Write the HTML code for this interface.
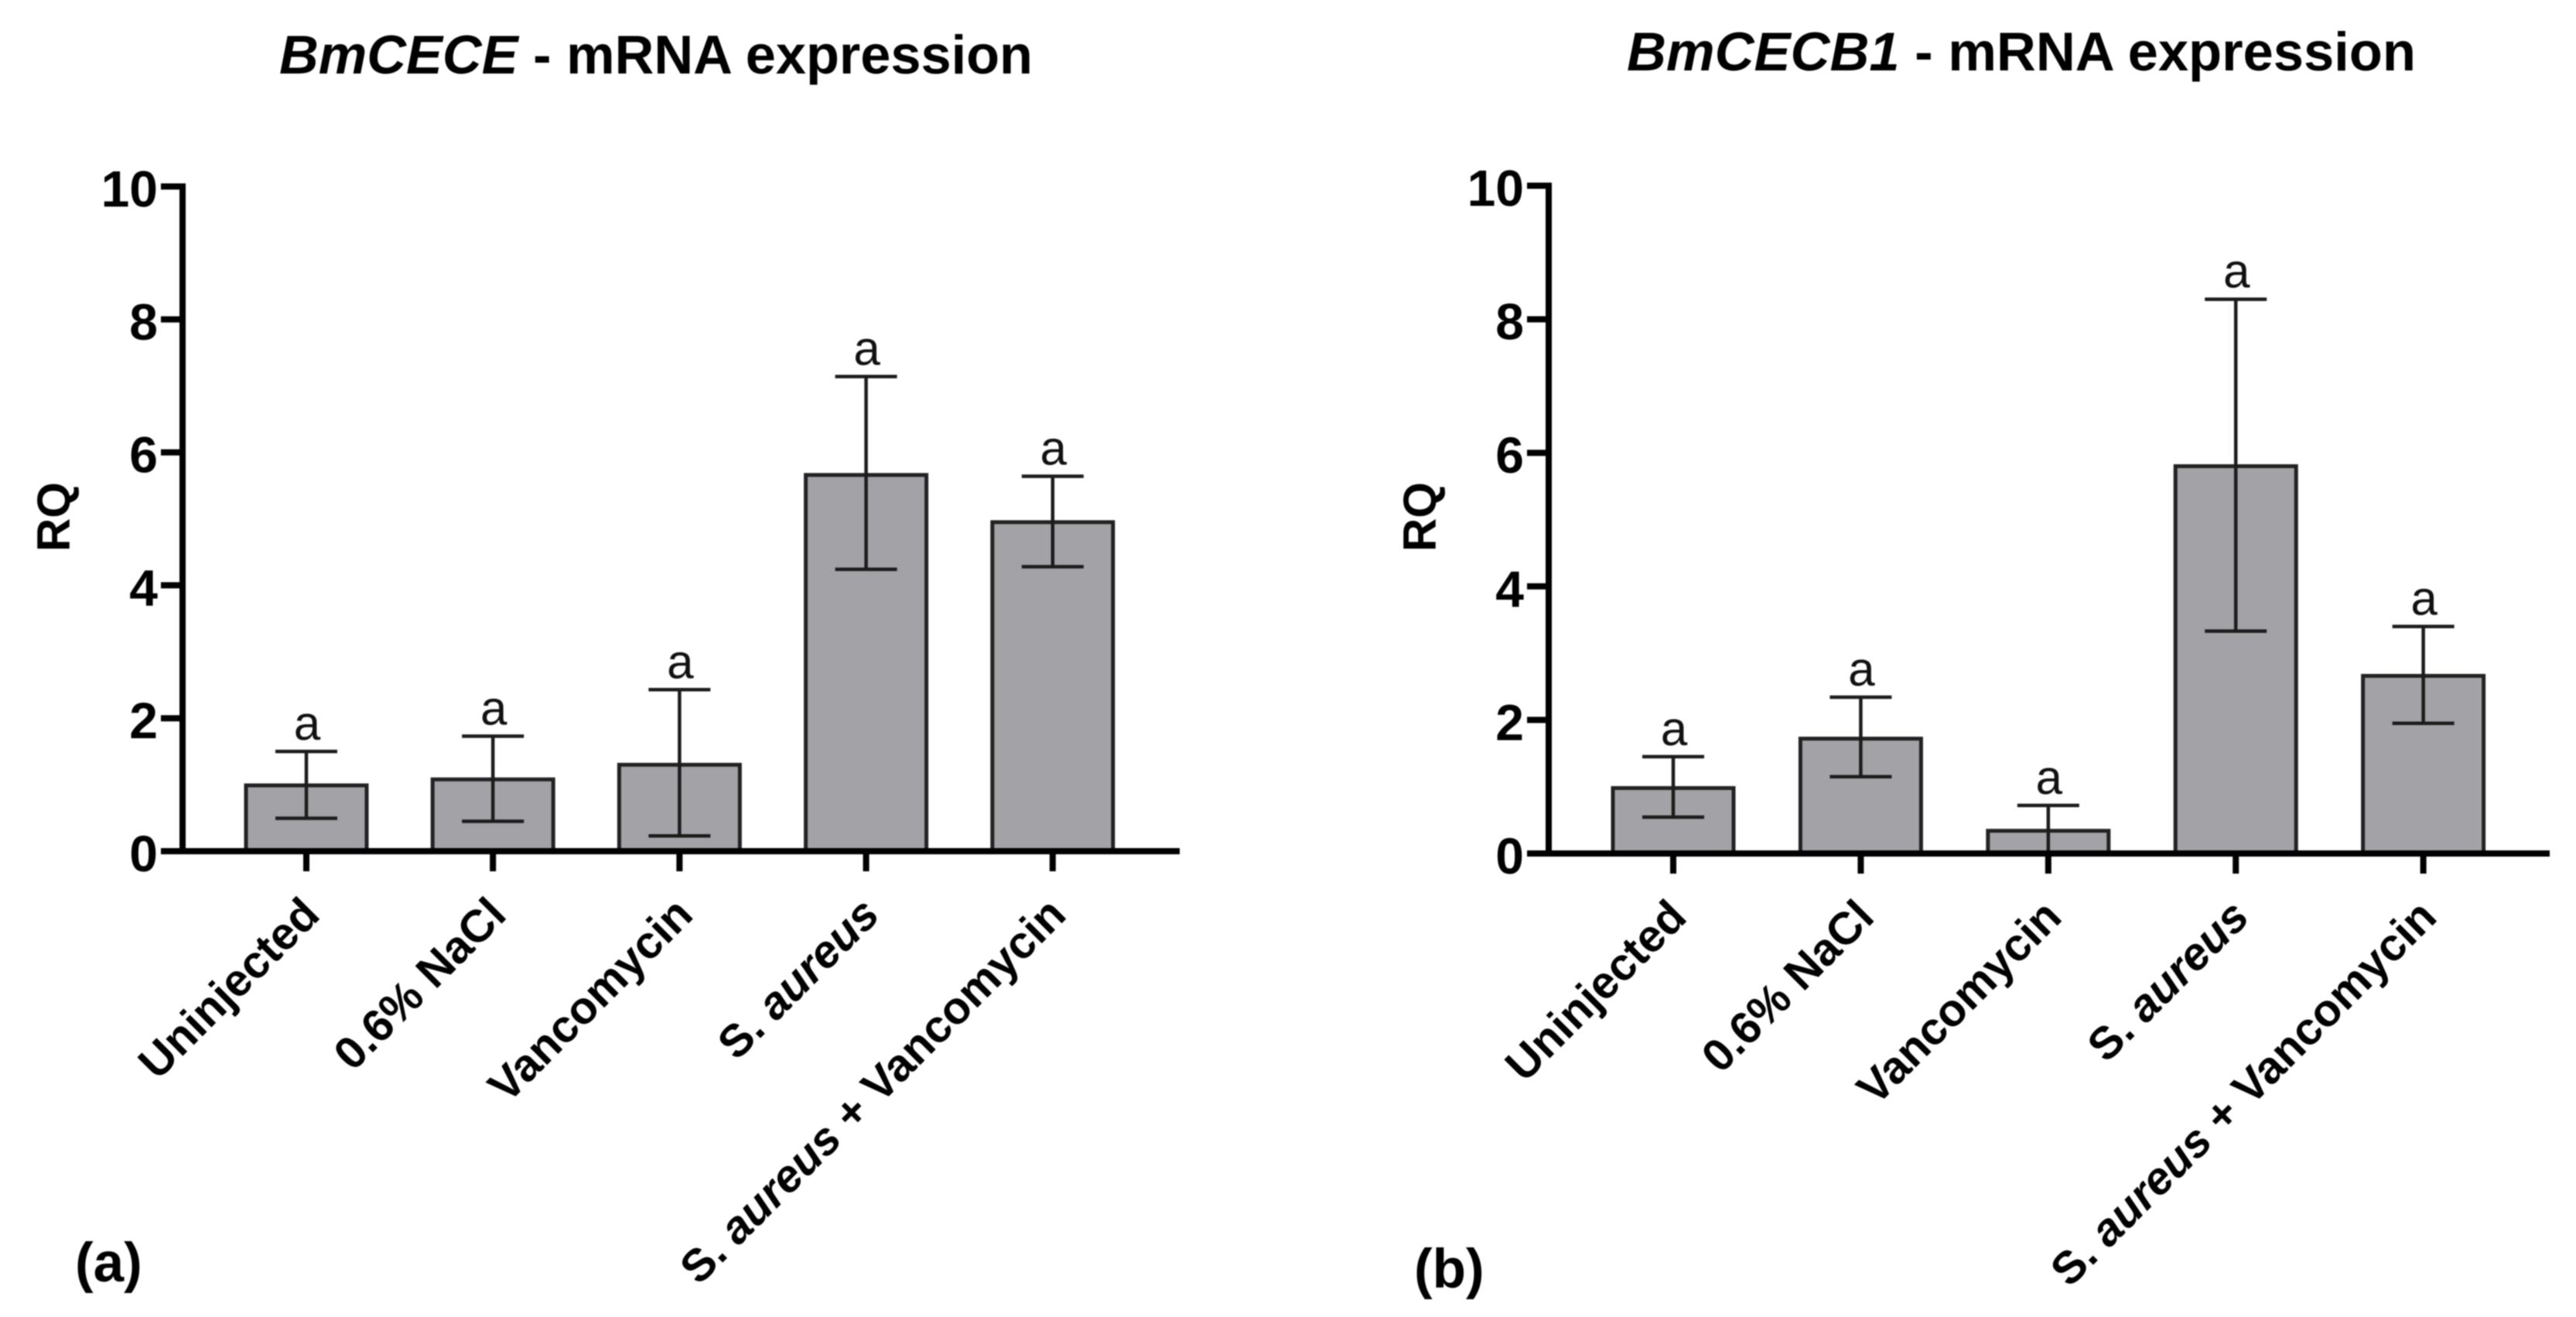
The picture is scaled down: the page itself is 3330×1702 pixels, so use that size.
<!DOCTYPE html>
<html lang="en">
<head>
<meta charset="utf-8">
<title>BmCECE and BmCECB1 mRNA expression</title>
<style>
html,body{margin:0;padding:0;background:#fff;}
body{width:3330px;height:1702px;overflow:hidden;}
svg{display:block;filter:blur(0.8px);font-family:"Liberation Sans",Arial,sans-serif;}
</style>
</head>
<body>
<svg id="figure" xmlns="http://www.w3.org/2000/svg" width="3330" height="1702" viewBox="0 0 3330 1702">
  <rect x="0" y="0" width="3330" height="1702" fill="#ffffff"/>
  <text x="361" y="95" font-size="70.3" font-weight="700" fill="#000"><tspan font-style="italic">BmCECE</tspan> - mRNA expression</text>
  <text x="2103" y="91" font-size="70.5" font-weight="700" fill="#000"><tspan font-style="italic">BmCECB1</tspan> - mRNA expression</text>
  <text transform="translate(90,668) rotate(-90)" text-anchor="middle" font-size="60" font-weight="700" fill="#000">RQ</text>
  <text transform="translate(1856,668) rotate(-90)" text-anchor="middle" font-size="60" font-weight="700" fill="#000">RQ</text>
  <text x="97" y="1656" font-size="71" font-weight="700" fill="#000">(a)</text>
  <text x="1828" y="1664" font-size="71" font-weight="700" fill="#000">(b)</text>
  <g id="panel-a"></g>
  <g id="panel-b"></g>
</svg>
<script>
const categories = ["Uninjected", "0.6% NaCl", "Vancomycin", "S. aureus", "S. aureus + Vancomycin"];
const yTickLabels = [0, 2, 4, 6, 8, 10];
const significance = ["a", "a", "a", "a", "a"];

const panelAValues = [0.99, 1.08, 1.30, 5.66, 4.95];
const panelAUpper = [1.50, 1.73, 2.43, 7.14, 5.64];
const panelALower = [0.495, 0.45, 0.23, 4.24, 4.28];

const panelBValues = [0.98, 1.72, 0.34, 5.80, 2.66];
const panelBUpper = [1.45, 2.34, 0.72, 8.30, 3.40];
const panelBLower = [0.545, 1.15, 0.00, 3.33, 1.95];

const NS = "http://www.w3.org/2000/svg";

function make(parent, tag, attrs) {
  const el = document.createElementNS(NS, tag);
  for (const k in attrs) el.setAttribute(k, attrs[k]);
  parent.appendChild(el);
  return el;
}

function drawPanel(groupId, frame, values, upper, lower) {
  const g = document.getElementById(groupId);
  const yScale = v => frame.y0 + (frame.y10 - frame.y0) * v / 10;
  const xScale = i => frame.x0 + frame.step * i;
  const ink = "#1c1c1c";

  categories.forEach((cat, i) => {
    const cx = xScale(i);

    const bar = make(g, "rect", {
      x: cx - 78, y: yScale(values[i]),
      width: 156, height: frame.y0 - yScale(values[i]),
      fill: "#a3a2a6", stroke: "#222222", "stroke-width": 5
    });
    
    

    const stem = make(g, "line", {
      x1: cx, x2: cx, y1: yScale(upper[i]), y2: yScale(lower[i]),
      stroke: ink, "stroke-width": 4.5
    });
    
    

    const capTop = make(g, "line", {
      x1: cx - 40, x2: cx + 40, y1: yScale(upper[i]), y2: yScale(upper[i]),
      stroke: ink, "stroke-width": 4.5
    });
    
    

    const capLow = make(g, "line", {
      x1: cx - 40, x2: cx + 40, y1: yScale(lower[i]), y2: yScale(lower[i]),
      stroke: ink, "stroke-width": 4.5
    });
    
    

    const sig = make(g, "text", {
      x: cx + 1, y: yScale(upper[i]) - 15,
      "text-anchor": "middle", "font-size": 62, fill: "#111"
    });
    sig.textContent = significance[i];
    
    

    const tick = make(g, "line", {
      x1: cx, x2: cx, y1: frame.y0, y2: frame.y0 + 26,
      stroke: "#000", "stroke-width": 8
    });
    
    

    const label = make(g, "text", {
      transform: "translate(" + (cx + 20) + "," + (frame.y0 + 85) + ") rotate(-45)",
      "text-anchor": "end", "font-size": 58.8, "font-weight": 700, fill: "#000"
    });
    
    
    cat.split(/(aureus)/).forEach(part => {
      if (!part) return;
      const span = make(label, "tspan", part === "aureus" ? {"font-style": "italic"} : {});
      span.textContent = part;
    });
  });

  yTickLabels.forEach(v => {
    const y = yScale(v);
    const tick = make(g, "line", {
      x1: frame.axisX - 28, x2: frame.axisX, y1: y, y2: y,
      stroke: "#000", "stroke-width": 8
    });
    
    

    const label = make(g, "text", {
      x: frame.axisX - 32, y: y + 26,
      "text-anchor": "end", "font-size": 66, "font-weight": 700, fill: "#000"
    });
    label.textContent = v;
    
    
  });

  const yAxis = make(g, "line", {
    x1: frame.axisX, x2: frame.axisX, y1: frame.y10 - 4, y2: frame.y0 + 4,
    stroke: "#000", "stroke-width": 8
  });
  
  

  const xAxis = make(g, "line", {
    x1: frame.axisX - 28, x2: frame.axisEnd, y1: frame.y0, y2: frame.y0,
    stroke: "#000", "stroke-width": 8
  });
  
  
}

drawPanel("panel-a", {axisX: 236, axisEnd: 1525, y0: 1100, y10: 241, x0: 396, step: 241.2}, panelAValues, panelAUpper, panelALower);
drawPanel("panel-b", {axisX: 2002, axisEnd: 3296, y0: 1103, y10: 240, x0: 2163, step: 242.4}, panelBValues, panelBUpper, panelBLower);
</script>
</body>
</html>
